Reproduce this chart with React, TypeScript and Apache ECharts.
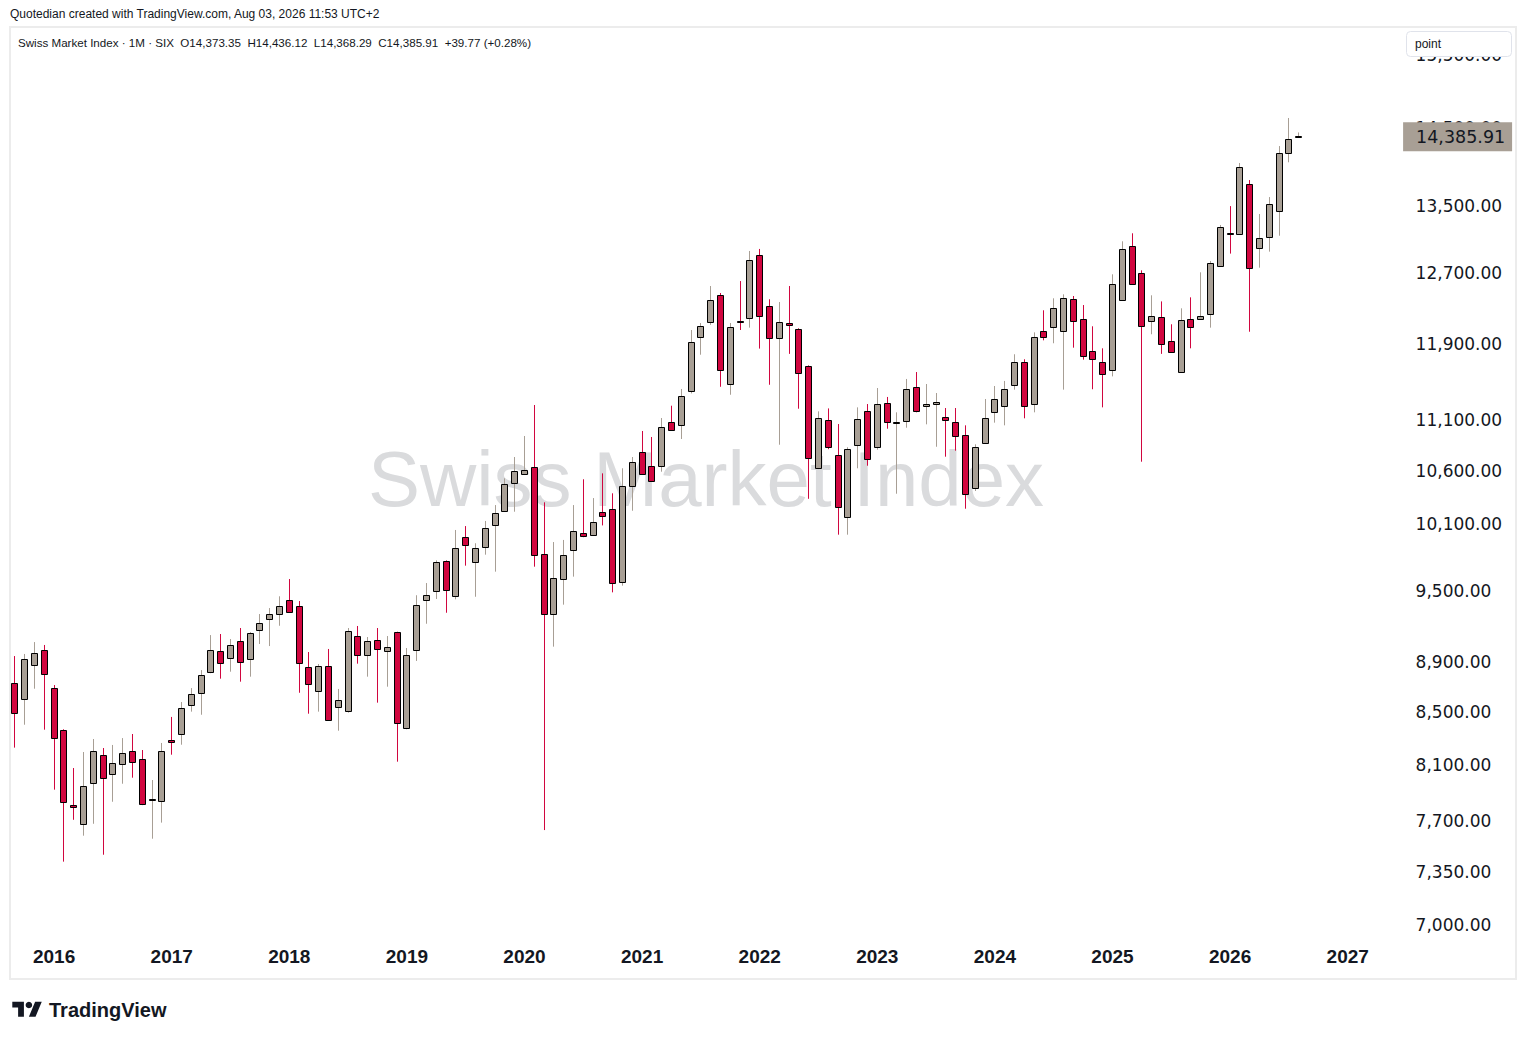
import React, { useEffect, useRef } from "react";
import * as echarts from "echarts";

// ---------- data ----------
const START_YEAR = 2015;
const START_MONTH = 9;
const SLOT_COUNT = 142; // 132 monthly candles + empty space to the right

const months: string[] = [];
for (let k = 0; k < SLOT_COUNT; k++) {
  const m = START_MONTH - 1 + k;
  const y = START_YEAR + Math.floor(m / 12);
  const mm = (m % 12) + 1;
  months.push(`${y}-${String(mm).padStart(2, "0")}`);
}

const opens = [
  8729, 8602, 8873, 8996, 8689, 8362, 7809, 7674, 7967, 8173,
  8033, 8107, 8203, 8144, 7850, 7837, 8285, 8332, 8555, 8650,
  8817, 8988, 8931, 9070, 8927, 9162, 9254, 9296, 9416, 9365,
  8857, 8665, 8865, 8540, 8513, 9112, 8955, 9078, 8988, 9145,
  8378, 8996, 9416, 9494, 9758, 9451, 9974, 9749, 9883, 10083,
  10214, 10478, 10565, 10632, 9820, 9296, 9599, 9857, 10011, 9992,
  10205, 10232, 9572, 10449, 10779, 10642, 10642, 11078, 11048, 11397,
  11973, 12138, 12441, 11469, 12150, 12181, 12904, 12316, 11962, 12127,
  12061, 11660, 10623, 11099, 10749, 10158, 10848, 11190, 10829, 11272,
  11070, 11089, 11439, 11241, 11262, 11129, 11078, 10947, 10430, 10868,
  11180, 11241, 11459, 11703, 11262, 12038, 12083, 12038, 12396, 12170,
  11820, 11703, 11617, 12384, 13011, 12694, 12148, 12193, 11929, 11596,
  12170, 12170, 12226, 12775, 13172, 13154, 13768, 12987, 13118, 13432,
  14163, 14373.35,
];

const highs = [
  8949, 8966, 9064, 9040, 8715, 8370, 8079, 8198, 8296, 8228,
  8251, 8303, 8334, 8213, 7991, 8266, 8465, 8581, 8691, 8835,
  9122, 9131, 9089, 9181, 9147, 9299, 9350, 9451, 9601, 9410,
  8982, 8884, 9007, 8684, 9181, 9198, 9106, 9181, 9114, 9150,
  9015, 9460, 9566, 9766, 9766, 10041, 10077, 9920, 10124, 10272,
  10526, 10733, 10941, 11255, 10298, 9931, 9950, 10272, 10517, 10338,
  10574, 10383, 10623, 10733, 10991, 10931, 11122, 11248, 11421, 12053,
  12130, 12547, 12467, 12130, 12604, 12955, 12979, 12396, 12365, 12547,
  12072, 11670, 11190, 11220, 11061, 10829, 11231, 11265, 11431, 11338,
  11180, 11526, 11599, 11473, 11379, 11224, 11224, 11048, 10858, 11317,
  11452, 11505, 11789, 11735, 12027, 12272, 12407, 12452, 12433, 12331,
  12094, 11853, 12682, 13070, 13166, 12728, 12441, 12372, 12116, 12294,
  12418, 12705, 12837, 13266, 13497, 14039, 13822, 13400, 13609, 14258,
  14628, 14436.12,
];

const lows = [
  8231, 8405, 8686, 8367, 7921, 7417, 7706, 7595, 7678, 7464,
  7834, 7964, 8008, 7810, 7574, 7686, 8178, 8253, 8506, 8482,
  8810, 8766, 8822, 8742, 8782, 9048, 9031, 9200, 9310, 8654,
  8490, 8506, 8435, 8359, 8498, 8887, 8782, 8576, 8702, 8126,
  8370, 8909, 9217, 9428, 9310, 9425, 9719, 9447, 9817, 9666,
  10210, 10210, 10560, 9710, 7634, 9026, 9379, 9622, 9975, 9990,
  10083, 9485, 9543, 10219, 10560, 10495, 10590, 10995, 10911, 11375,
  11784, 12110, 11444, 11361, 12053, 12079, 11850, 11465, 10854, 11793,
  11217, 10331, 10615, 10810, 9998, 9998, 10623, 10648, 10805, 11014,
  10379, 11024, 11180, 11058, 10834, 10736, 10795, 10238, 10405, 10865,
  11075, 11048, 11414, 11119, 11180, 11940, 11908, 11414, 11860, 11731,
  11418, 11231, 11553, 12380, 12560, 10687, 12006, 11793, 11805, 11590,
  11853, 12165, 12079, 12770, 12924, 13150, 12034, 12759, 12947, 13137,
  14048, 14368.29,
];

const closes = [
  8493, 8922, 8971, 8801, 8301, 7830, 7794, 7945, 8203, 8004,
  8114, 8189, 8121, 7816, 7856, 8203, 8275, 8532, 8642, 8793,
  8996, 8890, 9037, 8903, 9136, 9220, 9296, 9365, 9314, 8890,
  8721, 8865, 8439, 8595, 9153, 8955, 9070, 9004, 9021, 8415,
  8955, 9374, 9460, 9749, 9503, 9874, 9901, 9874, 10056, 10195,
  10469, 10594, 10603, 9811, 9296, 9607, 9811, 10029, 9983, 10112,
  10167, 9563, 10455, 10681, 10565, 10498, 11028, 10998, 11345, 11918,
  12094, 12384, 11617, 12083, 12140, 12845, 12204, 11962, 12138, 12105,
  11585, 10720, 11119, 10829, 10251, 10810, 11109, 10710, 11262, 11078,
  11080, 11418, 11190, 11262, 11283, 11099, 10938, 10373, 10829, 11119,
  11314, 11418, 11703, 11241, 11973, 11973, 12294, 12407, 12148, 11767,
  11735, 11575, 12566, 12975, 12566, 12094, 12204, 11897, 11810, 12159,
  12083, 12204, 12810, 13238, 13160, 13984, 12752, 13106, 13519, 14163,
  14346.14, 14385.91,
];

const priceTicks = [
  15500, 14500, 13500, 12700, 11900, 11100, 10600, 10100, 9500, 8900, 8500,
  8100, 7700, 7350, 7000,
];

const Y_MIN = 6898.5;
const Y_MAX = 15881;

const UP = "#a89f95";
const DOWN = "#d1063f";
const INK = "#131722";

const TITLE = "Quotedian created with TradingView.com, Aug 03, 2026 11:53 UTC+2";
const WATERMARK = "Swiss Market Index";

const fmt = (v: number) =>
  v.toLocaleString("en-US", { minimumFractionDigits: 2, maximumFractionDigits: 2 });

const lastIdx = closes.length - 1;
const prevClose = closes[lastIdx - 1];
const chg = closes[lastIdx] - prevClose;
const chgPct = (chg / prevClose) * 100;
const LEGEND =
  `Swiss Market Index · 1M · SIX  O${fmt(opens[lastIdx])}  H${fmt(highs[lastIdx])}  ` +
  `L${fmt(lows[lastIdx])}  C${fmt(closes[lastIdx])}  ${chg >= 0 ? "+" : ""}${chg.toFixed(2)} ` +
  `(${chg >= 0 ? "+" : ""}${chgPct.toFixed(2)}%)`;

const TV_LOGO_D = "M14 22H7V11H0V4h14v18zM28 22h-8l7.5-18h8L28 22z";
let logoRegistered = false;

export default function App() {
  const ref = useRef<HTMLDivElement>(null);

  useEffect(() => {
    document.body.style.margin = "0";
    if (!logoRegistered) {
      echarts.graphic.registerShape("tvlogo", echarts.graphic.extendPath(TV_LOGO_D, {}) as any);
      logoRegistered = true;
    }
    const chart = echarts.init(ref.current!, undefined, { renderer: "svg" });

    const candleData = opens.map((o, i) => [i, o, closes[i], lows[i], highs[i]]);

    const option: any = {
      animation: false,
      backgroundColor: "#ffffff",
      grid: { left: 10, top: 28, width: 1391.6, height: 913, containLabel: false },
      xAxis: {
        type: "category",
        data: months,
        boundaryGap: true,
        axisLine: { show: false },
        axisTick: { show: false },
        splitLine: { show: false },
        axisLabel: {
          interval: (_i: number, v: string) => v.endsWith("-01"),
          formatter: (v: string) => v.slice(0, 4),
          color: INK,
          fontSize: 19,
          fontWeight: "bold",
          fontFamily: "Liberation Sans",
          margin: 6,
        },
      },
      yAxis: {
        type: "log",
        logBase: 10,
        min: Y_MIN,
        max: Y_MAX,
        position: "right",
        axisLine: { show: false },
        axisTick: { show: false },
        axisLabel: { show: false },
        splitLine: { show: false },
      },
      series: [
        {
          type: "custom",
          name: "SMI",
          data: candleData,
          encode: { x: 0, y: [1, 2, 3, 4] },
          z: 2,
          renderItem: (_p: any, api: any) => {
            const i = api.value(0);
            const o = api.value(1);
            const c = api.value(2);
            const l = api.value(3);
            const h = api.value(4);
            const col = c >= o ? UP : DOWN;
            const pO = api.coord([i, o]);
            const pC = api.coord([i, c]);
            const pH = api.coord([i, h]);
            const pL = api.coord([i, l]);
            const cx = Math.floor(pO[0]) + 0.5;
            const top = Math.round(Math.min(pO[1], pC[1])) + 0.5;
            const bot = Math.round(Math.max(pO[1], pC[1])) + 0.5;
            return {
              type: "group",
              children: [
                {
                  type: "line",
                  shape: { x1: cx, y1: pH[1], x2: cx, y2: pL[1] },
                  style: { stroke: col, lineWidth: 1 },
                },
                {
                  type: "rect",
                  shape: { x: cx - 3, y: top, width: 6, height: Math.max(bot - top, 1) },
                  style: { fill: col, stroke: "#000000", lineWidth: 1 },
                },
              ],
            };
          },
        },
        {
          type: "custom",
          name: "ticks",
          data: priceTicks.map((v) => [0, v]),
          encode: { x: 0, y: 1 },
          clip: false,
          silent: true,
          z: 3,
          renderItem: (params: any, api: any) => {
            const v = api.value(1);
            const y = api.coord([0, v])[1];
            return {
              type: "text",
              x: params.coordSys.x + params.coordSys.width + 14,
              y,
              style: {
                text: fmt(v),
                fill: INK,
                font: '17px "DejaVu Sans"',
                align: "left",
                verticalAlign: "middle",
              },
            };
          },
        },
        {
          type: "custom",
          name: "last",
          data: [[lastIdx, closes[lastIdx]]],
          encode: { x: 0, y: 1 },
          clip: false,
          silent: true,
          z: 10,
          renderItem: (params: any, api: any) => {
            const v = api.value(1);
            const y = api.coord([api.value(0), v])[1];
            const x0 = params.coordSys.x + params.coordSys.width + 1.5;
            return {
              type: "group",
              children: [
                {
                  type: "rect",
                  shape: { x: x0, y: y - 14, width: 109, height: 29 },
                  style: { fill: UP },
                },
                {
                  type: "text",
                  x: x0 + 13,
                  y: y + 1,
                  style: {
                    text: fmt(v),
                    fill: INK,
                    font: '17.5px "DejaVu Sans"',
                    align: "left",
                    verticalAlign: "middle",
                  },
                },
              ],
            };
          },
        },
      ],
      graphic: [
        {
          type: "text",
          z: 0,
          x: 706,
          y: 479,
          style: {
            text: WATERMARK,
            fill: "#dadbdd",
            font: '78px "Liberation Sans"',
            align: "center",
            verticalAlign: "middle",
          },
        },
        {
          type: "rect",
          z: 100,
          shape: { x: 10, y: 27, width: 1506, height: 952 },
          style: { fill: "none", stroke: "#ececec", lineWidth: 2 },
        },
        {
          type: "text",
          z: 100,
          x: 10,
          y: 14,
          style: {
            text: TITLE,
            fill: INK,
            font: '12px "Liberation Sans"',
            verticalAlign: "middle",
          },
        },
        {
          type: "text",
          z: 100,
          x: 18,
          y: 42,
          style: {
            text: LEGEND,
            fill: INK,
            font: '11.6px "Liberation Sans"',
            verticalAlign: "middle",
          },
        },
        {
          type: "rect",
          z: 100,
          shape: { x: 1406.5, y: 31.5, width: 105, height: 25, r: 4 },
          style: { fill: "#ffffff", stroke: "#e0e3eb", lineWidth: 1 },
        },
        {
          type: "text",
          z: 101,
          x: 1415,
          y: 44,
          style: {
            text: "point",
            fill: INK,
            font: '12px "Liberation Sans"',
            verticalAlign: "middle",
          },
        },
        {
          type: "tvlogo",
          z: 100,
          x: 12.3,
          y: 998.4,
          scaleX: 0.83,
          scaleY: 0.83,
          style: { fill: INK },
        },
        {
          type: "circle",
          z: 100,
          shape: { cx: 28.9, cy: 1005, r: 3.3 },
          style: { fill: INK },
        },
        {
          type: "text",
          z: 100,
          x: 49,
          y: 1010,
          style: {
            text: "TradingView",
            fill: INK,
            font: 'bold 20px "Liberation Sans"',
            verticalAlign: "middle",
          },
        },
      ],
    };

    chart.setOption(option);
    return () => chart.dispose();
  }, []);

  return <div ref={ref} style={{ width: 1526, height: 1040 }} />;
}
